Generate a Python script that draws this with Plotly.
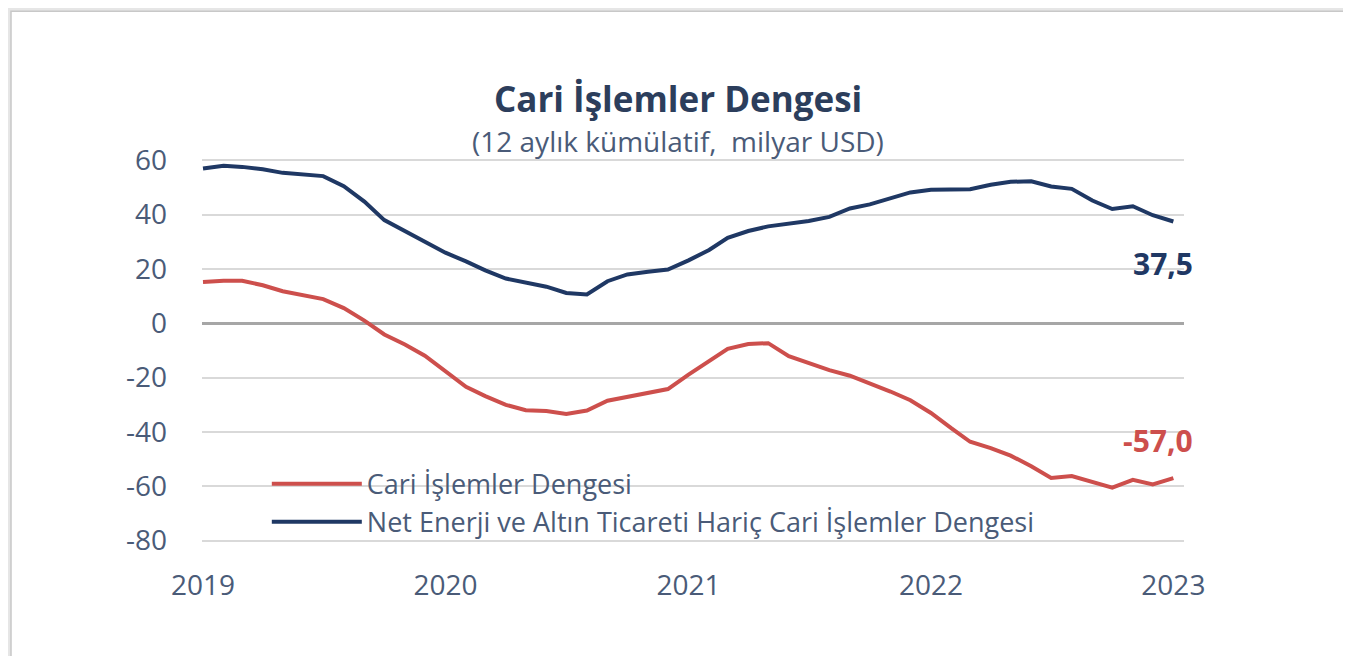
import pandas as pd
import plotly.graph_objects as go

# aylık seriler, Ocak 2019 - Ocak 2023 (milyar USD, 12 aylık kümülatif)
months = pd.date_range("2019-01-01", "2023-01-01", freq="MS")

cari_denge = [
    15.2, 15.7, 15.7, 14.0, 11.8, 10.3, 8.9, 5.6, 1.0, -4.1, -7.8, -11.9,
    -17.8, -23.4, -26.8, -30.0, -32.0, -32.3, -33.4, -32.1, -28.5, -27.1, -25.8, -24.2,
    -18.9, -14.0, -9.4, -7.6, -7.3, -12.1, -14.7, -17.2, -19.3, -22.1, -25.1, -28.3,
    -33.0, -38.7, -43.6, -45.9, -48.7, -52.6, -56.9, -56.2, -58.4, -60.5, -57.6, -59.3,
    -57.0,
]
enerji_altin_haric = [
    57.0, 58.0, 57.6, 56.7, 55.4, 54.7, 54.2, 50.5, 44.8, 38.0, 33.9, 30.3,
    26.0, 22.8, 19.5, 16.5, 15.0, 13.5, 11.2, 10.6, 15.5, 18.0, 19.0, 19.8,
    23.2, 27.0, 31.5, 34.0, 35.7, 36.8, 37.7, 39.2, 42.3, 43.8, 46.2, 48.2,
    49.2, 49.4, 49.4, 51.0, 52.1, 52.3, 50.4, 49.5, 45.2, 42.1, 43.1, 39.8,
    37.5,
]
year_ticks = pd.date_range("2019-01-01", "2023-01-01", freq="YS")
year_labels = ["2019", "2020", "2021", "2022", "2023"]
y_ticks = [60, 40, 20, 0, -20, -40, -60, -80]
y_labels = ["60", "40", "20", "0", "-20", "-40", "-60", "-80"]

RED = "#cd4f4c"
NAVY = "#1f3864"
SLATE = "#4a5b78"
FONT = "Open Sans"

fig = go.Figure()
fig.add_trace(go.Scatter(
    x=months, y=cari_denge, mode="lines", name="Cari İşlemler Dengesi",
    line=dict(color=RED, width=4), legendgroup="a"
))
fig.add_trace(go.Scatter(
    x=months, y=enerji_altin_haric, mode="lines",
    name="Net Enerji ve Altın Ticareti Hariç Cari İşlemler Dengesi",
    line=dict(color=NAVY, width=4), legendgroup="b"
))

fig.add_annotation(x=months[-1], y=enerji_altin_haric[-1], text="<b>37,5</b>",
                   showarrow=False, xshift=-10, yshift=-42,
                   font=dict(family=FONT, size=30, color=NAVY))
fig.add_annotation(x=months[-1], y=cari_denge[-1], text="<b>-57,0</b>",
                   showarrow=False, xshift=-15, yshift=38,
                   font=dict(family=FONT, size=30, color=RED))

fig.add_annotation(xref="paper", yref="paper", x=0.485, y=1.159, yanchor="middle",
                   text="<b>Cari İşlemler Dengesi</b>", showarrow=False,
                   font=dict(family=FONT, size=35, color="#2c3e5c"))
fig.add_annotation(xref="paper", yref="paper", x=0.485, y=1.047, yanchor="middle",
                   text="(12 aylık kümülatif,  milyar USD)", showarrow=False,
                   font=dict(family=FONT, size=28, color=SLATE))

# kart çerçevesi
fig.add_shape(type="rect", xref="paper", yref="paper", layer="below",
              x0=-0.1945, x1=1.164, y0=-0.3, y1=1.386,
              fillcolor="white", line=dict(color="#c8c8c8", width=1.5))

fig.update_layout(
    width=1351, height=656,
    margin=dict(l=194, r=175, t=151, b=122),
    paper_bgcolor="#e6e6e6",
    plot_bgcolor="rgba(0,0,0,0)",
    font=dict(family=FONT, size=25, color=SLATE),
    showlegend=True,
    legend=dict(x=0.066, y=0.215, xanchor="left", yanchor="top",
                bgcolor="rgba(0,0,0,0)", itemwidth=90, tracegroupgap=0,
                font=dict(family=FONT, size=27, color=SLATE)),
    xaxis=dict(
        range=["2018-12-30 12:00", "2023-01-17"],
        tickvals=year_ticks, ticktext=year_labels,
        showgrid=False, zeroline=False, showline=False,
        ticklabelstandoff=24,
        tickfont=dict(family=FONT, size=28, color=SLATE),
    ),
    yaxis=dict(
        range=[-80.5, 60.5], tickvals=y_ticks, ticktext=y_labels,
        gridcolor="#d9d9d9", gridwidth=1.5,
        zeroline=True, zerolinecolor="#a6a6a6", zerolinewidth=2.5,
        showline=False, ticklabelstandoff=34,
        tickfont=dict(family=FONT, size=28, color=SLATE),
    ),
)

fig.write_html("out.html")
